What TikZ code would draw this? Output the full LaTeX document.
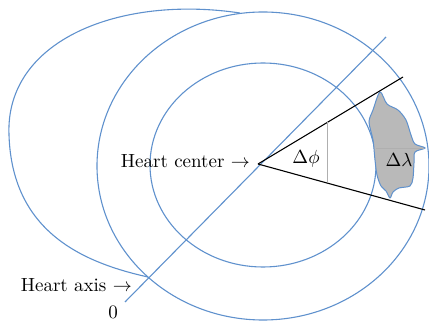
\documentclass[tikz,border=0pt]{standalone}
\usepackage{graphicx}
\definecolor{heartblue}{RGB}{95,145,205}
\definecolor{blobgray}{RGB}{185,185,185}
\definecolor{thingray}{RGB}{175,175,175}
\newcommand{\bigtxt}[1]{\scalebox{1.9}{#1}}
\tikzset{
  bluecurve/.style={draw=heartblue, line width=1.1pt},
  blackline/.style={draw=black, line width=1.1pt},
  grayline/.style={draw=thingray, line width=0.8pt},
  lbl/.style={inner sep=0pt},
}
\begin{document}
\begin{tikzpicture}[x=1pt,y=-1pt]
\useasboundingbox (0,0) rectangle (429,323);
% key points
\coordinate (C) at (258,164);
\coordinate (U) at (403,77);
\coordinate (L) at (425,210);
\coordinate (A0) at (125,302);
\coordinate (A1) at (386,37);
\coordinate (G0) at (327,122);
\coordinate (G1) at (327,182);
\coordinate (H0) at (376,148);
\coordinate (H1) at (424,148);
\coordinate (O0) at (240,13);
\coordinate (O1) at (9,135);
\coordinate (O2) at (148,277);
% outer (left) contour
\draw[bluecurve] (O0) .. controls (120,-5) and (5,40) .. (O1)
                      .. controls (12,230) and (80,262) .. (O2);
% middle ellipse
\draw[bluecurve] (263,166) ellipse [x radius=166, y radius=154];
% inner ellipse
\draw[bluecurve] (263,165) ellipse [x radius=113, y radius=102];
% heart axis
\draw[bluecurve] (A0) -- (A1);
% blob
\draw[heartblue, line width=1pt, fill=blobgray] plot[smooth cycle, tension=0.5] coordinates {(380,92) (387,104) (398,110) (406,120) (411,135) (415,144) (425,148) (415,152) (414,163) (413,178) (410,186) (399,188) (393,192) (390,198) (386,191) (381,186) (377,175) (375,160) (373,140) (369,122) (373,110)};
\draw[grayline] (H0) -- (H1);
% black lines
\draw[blackline] (C) -- (U);
\draw[blackline] (C) -- (L);
% gray chord
\draw[grayline] (G0) -- (G1);
% labels
\node[lbl, anchor=base east] (hc) at (250,168) {\bigtxt{Heart center $\rightarrow$}};
\node[lbl, anchor=base east] (ha) at (132,292) {\bigtxt{Heart axis $\rightarrow$}};
\node[lbl, anchor=base] (zero) at (113,319) {\bigtxt{0}};
\node[lbl, anchor=base] (dphi) at (306,164) {\bigtxt{$\Delta\phi$}};
\node[lbl, anchor=base] (dlam) at (399,167) {\bigtxt{$\Delta\lambda$}};
\end{tikzpicture}
\end{document}
